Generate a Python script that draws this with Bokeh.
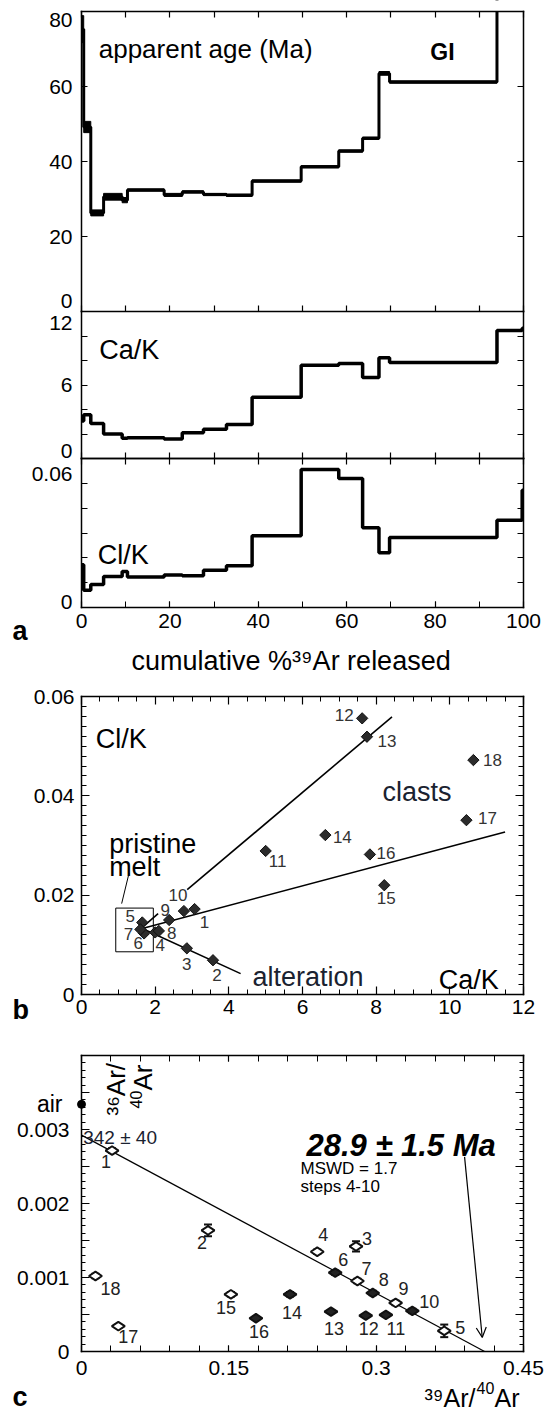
import math
from bokeh.plotting import figure
from bokeh.layouts import column
from bokeh.core.properties import value
from bokeh.models import (Range1d, FixedTicker, LinearAxis, Label, LabelSet, ColumnDataSource,
                          CustomJSTickFormatter, Whisker, TeeHead, Arrow, OpenHead)
from bokeh.embed import file_html
from bokeh.resources import INLINE

FONT = "Liberation Sans"

# ---------------- data (18 heating steps) ----------------
step_ids = list(range(1, 19))
cum_ar39_edges = [0.0, 0.5, 2.1, 5.0, 9.2, 10.4, 18.7, 22.8, 27.6, 32.8, 38.6,
                  49.7, 58.2, 63.6, 67.3, 69.7, 94.0, 99.7, 100.0]
apparent_age = [75.3, 49.2, 26.3, 30.6, 29.7, 32.4, 31.1, 31.9, 31.2, 31.0,
                34.8, 38.6, 42.8, 46.2, 63.5, 61.2, 95.0, 110.0]
apparent_age_err = [3.6, 1.5, 0.8, 0.9, 0.7, 0.3, 0.4, 0.3, 0.3, 0.3,
                    0.3, 0.3, 0.3, 0.3, 0.5, 0.3, 1.0, 1.0]
ca_k = [3.07, 3.57, 2.86, 2.00, 1.65, 1.70, 1.60, 2.10, 2.38, 2.78,
        5.00, 7.62, 7.75, 6.62, 8.22, 7.83, 10.45, 10.64]
cl_k = [0.0172, 0.0069, 0.0093, 0.0125, 0.0145, 0.0123, 0.0131, 0.0128, 0.0150, 0.0168,
        0.0289, 0.0556, 0.0519, 0.0321, 0.0220, 0.0282, 0.0351, 0.0472]
ar39_ar40 = [0.0311, 0.1288, 0.2795, 0.2400, 0.3693, 0.2583, 0.2809, 0.2965, 0.3198, 0.3368,
             0.3099, 0.2894, 0.2540, 0.2123, 0.1521, 0.1776, 0.0375, 0.0142]
ar36_ar40 = [0.002715, 0.001636, 0.001420, 0.001348, 0.000279, 0.001065, 0.000953, 0.000791,
             0.000656, 0.000548, 0.000494, 0.000485, 0.000539, 0.000773, 0.000773, 0.000449,
             0.000342, 0.001020]
ar36_ar40_err = [3e-5, 8e-5, 7e-5, 3e-5, 8.5e-5, 3e-5, 3e-5, 3e-5, 3e-5, 3e-5,
                 2e-5, 2e-5, 2e-5, 3e-5, 3e-5, 2e-5, 2e-5, 3e-5]
air_ar36_ar40 = 0.00334
trapped_ar40_ar36 = 342
isochron_x_intercept = 0.4104

# trend lines in the Cl/K vs Ca/K diagram (start / end points)
trend_ca0 = [1.65, 2.87, 1.65, 1.65]
trend_cl0 = [0.0135, 0.0211, 0.0133, 0.0133]
trend_ca1 = [2.08, 8.43, 11.5, 4.32]
trend_cl1 = [0.0163, 0.0559, 0.0327, 0.0042]
melt_box_ca = [0.93, 1.95]
melt_box_cl = [0.0086, 0.0174]
melt_leader_ca = [1.09, 1.29]
melt_leader_cl = [0.0183, 0.0244]
arrow_from = [0.390, 0.00263]
arrow_to = [0.408, 0.00019]

# tick values and tick labels
age_ticks = [0, 20, 40, 60, 80]
age_tick_labels = ["0", "20", "40", "60", "80"]
cum_ticks = [0, 10, 20, 30, 40, 50, 60, 70, 80, 90, 100]
cum_labels = [0, 20, 40, 60, 80, 100]
cak_ticks = [0, 2, 4, 6, 8, 10, 12]
cak_tick_labels = ["0", "6", "12"]
clk_ticks = [0, 0.01, 0.02, 0.03, 0.04, 0.05, 0.06]
clk_tick_labels = ["0", "0.06"]
b_x_labels = [0, 2, 4, 6, 8, 10, 12]
b_x_minor = [i * 0.5 for i in range(25)]
b_y_labels = [0, 0.02, 0.04, 0.06]
b_y_minor = [round(i * 0.002, 3) for i in range(31)]
c_x_labels = [0, 0.15, 0.3, 0.45]
c_x_minor = [round(i * 0.03, 2) for i in range(16)]
c_y_labels = [0, 0.001, 0.002, 0.003]
c_y_half = [0.0005, 0.0015, 0.0025, 0.0035]
c_y_minor = [round(i * 0.0001, 4) for i in range(41)]

# ---------------- layout geometry (page pixels) ----------------
PAGE_L, PAGE_R = 0, 546
PL, PR = 81, 523           # left / right edge of every panel
W = PAGE_R - PAGE_L


def band_range(fig_top, fig_h, panel_top, panel_bot, yr):
    sy = (panel_bot - panel_top) / (yr[1] - yr[0])
    rng = Range1d(yr[0] - (fig_top + fig_h - panel_bot) / sy, yr[1] + (panel_top - fig_top) / sy)
    return rng, sy


def panel_fig(fig_top, fig_h, panel_top, panel_bot, xr, yr):
    sx = (PR - PL) / (xr[1] - xr[0])
    x_rng = Range1d(xr[0] - (PL - PAGE_L) / sx, xr[1] + (PAGE_R - PR) / sx)
    y_rng, sy = band_range(fig_top, fig_h, panel_top, panel_bot, yr)
    p = figure(width=W, height=fig_h, x_range=x_rng, y_range=y_rng,
               output_backend="svg", toolbar_location=None, title=None,
               x_axis_location=None, y_axis_location=None,
               min_border_left=0, min_border_right=0, min_border_top=0, min_border_bottom=0)
    p.outline_line_color = None
    p.background_fill_color = "white"
    p.border_fill_color = "white"
    p.grid.grid_line_color = None
    return p, sx, sy


def axis(p, side, loc, bounds, ticks, minor=(), tin=6, tmin=4, labels=None,
         standoff=6, line=True, size="21px", yname="default"):
    if labels is None:
        fmt = CustomJSTickFormatter(code="return ''")
    elif labels == "value":
        fmt = CustomJSTickFormatter(code="return tick.toString()")
    else:
        fmt = CustomJSTickFormatter(args=dict(vals=list(ticks), names=list(labels)), code="""
            for (let i = 0; i < vals.length; i++) {
                if (Math.abs(vals[i] - tick) < 1e-9) { return names[i]; }
            }
            return '';""")
    ax = LinearAxis(fixed_location=loc, bounds=bounds, y_range_name=yname,
                    ticker=FixedTicker(ticks=list(ticks), minor_ticks=list(minor)),
                    formatter=fmt)
    if line:
        ax.axis_line_color = "black"
        ax.axis_line_width = 1.5
        ax.axis_line_cap = "square"
    else:
        ax.axis_line_color = None
    ax.major_tick_in, ax.major_tick_out = tin, 0
    ax.minor_tick_in, ax.minor_tick_out = tmin, 0
    ax.major_tick_line_width = 1.2
    ax.minor_tick_line_width = 1.0
    ax.major_label_text_font = FONT
    ax.major_label_text_font_size = size
    ax.major_label_text_color = "black"
    ax.major_label_standoff = standoff
    p.add_layout(ax, side)
    return ax


def lab(p, x, y, text, size, align="left", baseline="alphabetic", style="normal",
        color="black", xo=0, yo=0, angle=0, yname="default"):
    p.add_layout(Label(x=x, y=y, text=text, text_font=FONT, text_font_size=f"{size}px",
                       text_align=align, text_baseline=baseline, text_font_style=style,
                       text_color=color, x_offset=xo, y_offset=yo, angle=angle,
                       y_range_name=yname))


def steps_vals(v):
    return list(v) + [v[-1]]


# ================= panel a (three stacked strips in one figure) =================
FA_TOP, FA_H = 0, 682
fa, sxa, sy1 = panel_fig(FA_TOP, FA_H, 11, 311, (0, 100), (0, 80))
cak_rng, sy2 = band_range(FA_TOP, FA_H, 311, 458, (0, 12))
clk_rng, sy3 = band_range(FA_TOP, FA_H, 458, 607, (0, 0.06))
fa.extra_y_ranges = {"cak": cak_rng, "clk": clk_rng}

# --- apparent age spectrum ---
fa.quad(left=cum_ar39_edges[:-1], right=cum_ar39_edges[1:],
        bottom=[a - e for a, e in zip(apparent_age, apparent_age_err)],
        top=[a + e for a, e in zip(apparent_age, apparent_age_err)],
        fill_color="black", line_color="black")
fa.step(x=cum_ar39_edges, y=steps_vals(apparent_age), mode="after", line_width=3, color="black")
# off-scale part of the spectrum is hidden above the top of the strip
fa.quad(left=[fa.x_range.start], right=[fa.x_range.end], bottom=[age_ticks[-1]],
        top=[fa.y_range.end], fill_color="white", line_color=None)
axis(fa, "left", 0, (0, 80), age_ticks[1:-1])
axis(fa, "right", 100, (0, 80), age_ticks[1:-1])
axis(fa, "above", 80, (0, 100), cum_ticks)
axis(fa, "below", 0, (0, 100), cum_ticks)
axis(fa, "left", 0, (0, 80), [11 / sy1, 20, 40, 60, 80 - 8 / sy1],
     labels=age_tick_labels, tin=0, tmin=0, standoff=9, line=False)
lab(fa, 3.9, 70.0, "apparent age (Ma)", 26)
lab(fa, 78.9, 69.1, "GI", 23, style="bold")

# --- Ca/K spectrum ---
fa.step(x=cum_ar39_edges, y=steps_vals(ca_k), mode="after", line_width=3.5, color="black",
        y_range_name="cak")
axis(fa, "left", 0, (0, 12), cak_ticks, yname="cak")
axis(fa, "right", 100, (0, 12), cak_ticks, yname="cak")
axis(fa, "below", 0, (0, 100), cum_ticks, yname="cak")
axis(fa, "left", 0, (0, 12), [8 / sy2, 6, 12 - 11 / sy2], labels=cak_tick_labels,
     tin=0, tmin=0, standoff=9, line=False, yname="cak")
lab(fa, 4.0, 8.82, "Ca/K", 27, yname="cak")

# --- Cl/K spectrum ---
fa.step(x=cum_ar39_edges, y=steps_vals(cl_k), mode="after", line_width=3.5, color="black",
        y_range_name="clk")
axis(fa, "left", 0, (0, 0.06), clk_ticks, yname="clk")
axis(fa, "right", 100, (0, 0.06), clk_ticks, yname="clk")
axis(fa, "above", 0.06, (0, 100), cum_ticks, yname="clk")
axis(fa, "below", 0, (0, 100), cum_labels, minor=cum_ticks, tin=6, tmin=6,
     labels="value", standoff=6, yname="clk")
axis(fa, "left", 0, (0, 0.06), [6 / sy3, 0.06 - 15 / sy3], labels=clk_tick_labels,
     tin=0, tmin=0, standoff=9, line=False, yname="clk")
lab(fa, 3.7, 0.0213, "Cl/K", 27, yname="clk")
lab(fa, (131 - PL) / sxa, -53 / sy3, "cumulative %\u00b3\u2079Ar released", 27, yname="clk")
lab(fa, (12 - PL) / sxa, -23 / sy3, "a", 27, style="bold", yname="clk")

# ================= panel b: Cl/K vs Ca/K =================
f4, sx4, sy4 = panel_fig(682, 343, 696, 994, (0, 12), (0, 0.06))
f4.segment(x0=trend_ca0, y0=trend_cl0, x1=trend_ca1, y1=trend_cl1, line_width=1.6, color="black")
f4.quad(left=[melt_box_ca[0]], right=[melt_box_ca[1]], bottom=[melt_box_cl[0]], top=[melt_box_cl[1]],
        fill_color=None, line_color="black", line_width=1)
f4.line(melt_leader_ca, melt_leader_cl, line_width=1, color="black")
f4.scatter(ca_k, cl_k, marker="square", angle=math.pi / 4, size=8,
           fill_color="#2b2b2b", line_color="#111111", line_width=1)
b_dx = [10, 4, 0, 5, -12, -6, -12, 13, -4, -6, 12, -18, 20, 17, 2, 16, 21, 19]
b_dy = [13, 15, 16, 13, -6, 10, 5, 2, -10, -16, 10, -3, 4, 2, 13, -1, -2, 0]
src_b = ColumnDataSource(dict(x=ca_k, y=cl_k, t=[str(s) for s in step_ids],
                              dx=b_dx, dy=[-d for d in b_dy]))
f4.add_layout(LabelSet(x="x", y="y", text="t", source=src_b, x_offset="dx", y_offset="dy",
                       text_font=value(FONT), text_font_size="17px", text_color="#333333",
                       text_align="center", text_baseline="middle"))
axis(f4, "left", 0, (0, 0.06), b_y_labels, minor=b_y_minor, tin=8, tmin=5,
     labels="value", standoff=7)
axis(f4, "below", 0, (0, 12), b_x_labels, minor=b_x_minor, tin=8, tmin=5,
     labels="value", standoff=5)
axis(f4, "right", 12, (0, 0.06), b_y_labels, minor=b_y_minor, tin=8, tmin=5)
axis(f4, "above", 0.06, (0, 12), b_x_labels, minor=b_x_minor, tin=8, tmin=5)
lab(f4, 0.39, 0.0514, "Cl/K", 27)
lab(f4, 8.17, 0.0408, "clasts", 27, color="#1a2230")
lab(f4, 0.75, 0.0304, "pristine", 27)
lab(f4, 0.75, 0.0257, "melt", 27)
lab(f4, 4.64, 0.0035, "alteration", 27, color="#1a2230")
lab(f4, 9.70, 0.0029, "Ca/K", 27)
lab(f4, (12 - PL) / sx4, -15 / sy4, "b", 27, style="bold")

# ================= panel c: isochron =================
f5, sx5, sy5 = panel_fig(1025, 386, 1055, 1351, (0, 0.45), (0, 0.004))
f5.line([0, isochron_x_intercept], [1.0 / trapped_ar40_ar36, 0], line_width=1.2, color="black")
f5.scatter([0], [air_ar36_ar40], size=8, color="black")
filled_steps = {6, 8, 10, 11, 12, 13, 14, 16}
src_c = ColumnDataSource(dict(
    x=ar39_ar40, y=ar36_ar40,
    lo=[v - e for v, e in zip(ar36_ar40, ar36_ar40_err)],
    hi=[v + e for v, e in zip(ar36_ar40, ar36_ar40_err)],
    fill=["#222222" if s in filled_steps else "white" for s in step_ids],
    t=[str(s) for s in step_ids],
    dx=[-6, -6, 11, 6, 16, 8, 9, 11, 8, 17, 10, 3, 3, 2, -5, 3, 10, 15],
    dy=[-11, -12, 8, 17, 3, 13, 12, 13, 14, 9, -14, -13, -17, -18, -13, -13, -10, -12]))
f5.scatter("x", "y", source=src_c, marker="diamond", angle=math.pi / 2, size=13,
           fill_color="fill", line_color="#111111", line_width=2)
f5.add_layout(Whisker(source=src_c, base="x", upper="hi", lower="lo", dimension="height",
                      line_width=2, line_color="#111111",
                      upper_head=TeeHead(size=8, line_width=2, line_color="#111111"),
                      lower_head=TeeHead(size=8, line_width=2, line_color="#111111")))
f5.add_layout(LabelSet(x="x", y="y", text="t", source=src_c, x_offset="dx", y_offset="dy",
                       text_font=value(FONT), text_font_size="18px", text_color="#222222",
                       text_align="center", text_baseline="middle"))
f5.add_layout(Arrow(end=OpenHead(size=10, line_width=1.2), x_start=arrow_from[0], y_start=arrow_from[1],
                    x_end=arrow_to[0], y_end=arrow_to[1], line_width=1.2))
axis(f5, "left", 0, (0, 0.004), c_y_labels, minor=c_y_minor, tin=8, tmin=4,
     labels="value", standoff=12)
axis(f5, "left", 0, (0, 0.004), c_y_half, tin=8, line=False)
axis(f5, "below", 0, (0, 0.45), c_x_labels, minor=c_x_minor, tin=6, tmin=6,
     labels="value", standoff=9)
axis(f5, "right", 0.45, (0, 0.004), c_y_labels + c_y_half, minor=c_y_minor, tin=8, tmin=4)
axis(f5, "above", 0.004, (0, 0.45), c_x_labels, minor=c_x_minor, tin=6, tmin=6)
lab(f5, -19 / sx5, air_ar36_ar40, "air", 23, align="right", baseline="middle")
lab(f5, 0.0017, 0.00289, "342 \u00b1 40", 19, color="#1a2230")
lab(f5, 0.229, 0.00278, "28.9 \u00b1 1.5 Ma", 31, style="bold italic")
lab(f5, 0.223, 0.002473, "MSWD = 1.7", 17)
lab(f5, 0.223, 0.00223, "steps 4-10", 17)
# rotated y-axis title, two lines: "36Ar/" and "40Ar"
lab(f5, (115 - PL) / sx5, (1351 - 1115) / sy5, "\u00b3\u2076Ar/", 26, angle=math.pi / 2)
lab(f5, (142 - PL) / sx5, (1351 - 1108) / sy5, "40", 16, xo=-7, angle=math.pi / 2)
lab(f5, (142 - PL) / sx5, (1351 - 1090) / sy5, "Ar", 26, angle=math.pi / 2)
# x-axis title "39Ar/40Ar"
lab(f5, (424 - PL) / sx5, -46 / sy5, "\u00b3\u2079Ar/", 25)
lab(f5, (476 - PL) / sx5, -46 / sy5, "40", 16, yo=10)
lab(f5, (494 - PL) / sx5, -46 / sy5, "Ar", 25)
lab(f5, (12 - PL) / sx5, -45 / sy5, "c", 27, style="bold")

layout = column(fa, f4, f5, spacing=0)
open("out.html", "w").write(file_html(layout, INLINE))
